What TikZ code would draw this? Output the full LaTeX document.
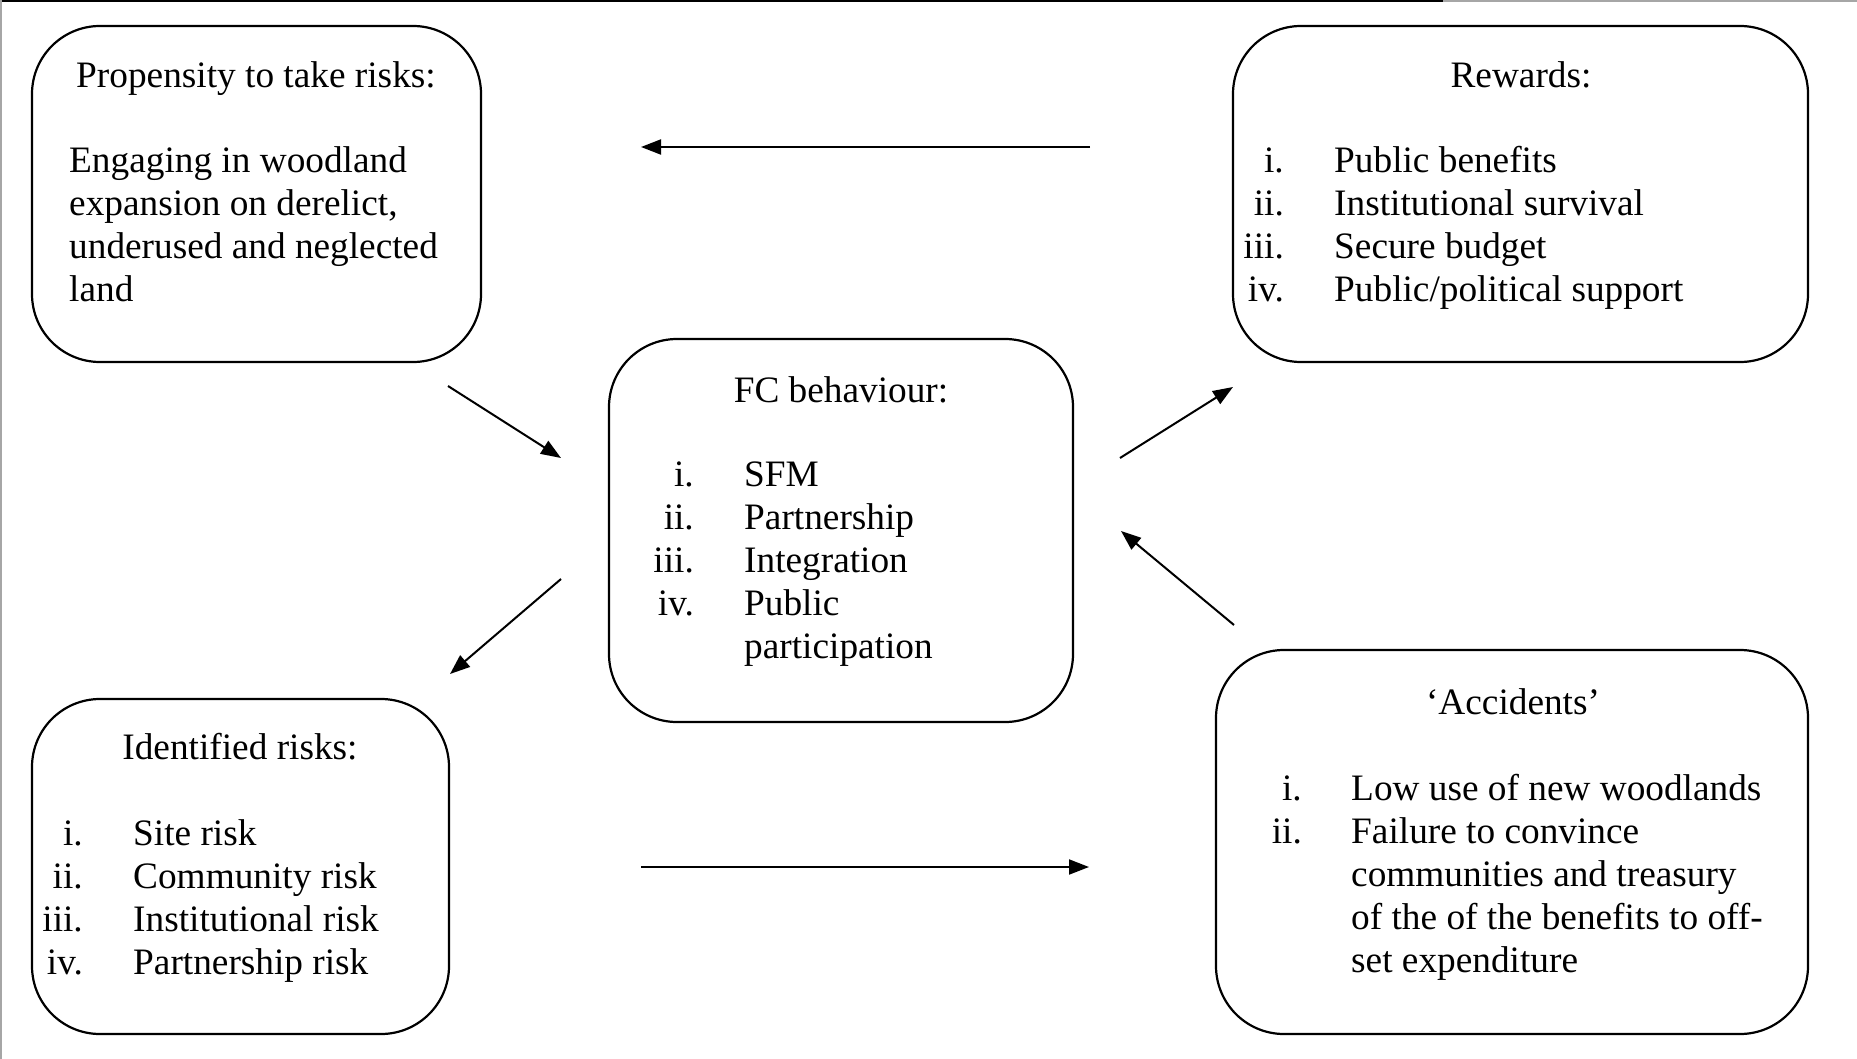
\documentclass[tikz,border=0pt]{standalone}
\usepackage{fontspec}
\setmainfont{Liberation Serif}
\usetikzlibrary{arrows.meta}
\begin{document}
\begin{tikzpicture}[x=1pt,y=-1pt,
  box/.style={draw, line width=2.2pt, rounded corners=68pt, inner sep=0pt},
  txt/.style={inner sep=0pt, anchor=base, yshift=-1.5pt, font=\fontsize{37.3}{43}\selectfont},
  num/.style={txt, anchor=base east},
  item/.style={txt, anchor=base west},
  link/.style={line width=2pt, -{Triangle[length=20pt,width=15pt]}}]
\useasboundingbox (0,0) rectangle (1857,1059);
% page frame
\draw[line width=2pt] (0,1) -- (1443,1);
\draw[line width=2pt, gray!70] (1443,1) -- (1857,1);
\draw[line width=2pt, gray!70] (1,0) -- (1,1059);

% boxes
\node[box, minimum width=449pt, minimum height=336pt] (prop) at (256.5,194) {};
\node[box, minimum width=575pt, minimum height=336pt] (rew) at (1520.5,194) {};
\node[box, minimum width=464pt, minimum height=383pt] (fc) at (841,530.5) {};
\node[box, minimum width=417pt, minimum height=335pt] (ident) at (240.5,866.5) {};
\node[box, minimum width=592pt, minimum height=384pt] (acc) at (1512,842) {};

% propensity to take risks
\node[txt] (propT) at (256,86) {Propensity to take risks:};
\node[item] (prop1) at (69,171) {Engaging in woodland};
\node[item] (prop2) at (69,214) {expansion on derelict,};
\node[item] (prop3) at (69,257) {underused and neglected};
\node[item] (prop4) at (69,300) {land};

% rewards
\node[txt] (rewT) at (1521,86) {Rewards:};
\foreach \n/\t/\y [count=\k] in {i./Public benefits/171, ii./Institutional survival/214,
    iii./Secure budget/257, iv./Public\slash political support/300}{
  \node[num] (rewN\k) at (1284,\y) {\n};
  \node[item] (rewI\k) at (1334,\y) {\t};
}

% FC behaviour
\node[txt] (fcT) at (841,401) {FC behaviour:};
\foreach \n/\t/\y [count=\k] in {i./SFM/485, ii./Partnership/528, iii./Integration/571, iv./Public/614}{
  \node[num] (fcN\k) at (694,\y) {\n};
  \node[item] (fcI\k) at (744,\y) {\t};
}
\node[item] (fcI5) at (744,657) {participation};

% identified risks
\node[txt] (idT) at (240,758) {Identified risks:};
\foreach \n/\t/\y [count=\k] in {i./Site risk/844, ii./Community risk/887,
    iii./Institutional risk/930, iv./Partnership risk/973}{
  \node[num] (idN\k) at (83,\y) {\n};
  \node[item] (idI\k) at (133,\y) {\t};
}

% accidents
\node[txt] (accT) at (1513,713) {‘Accidents’};
\node[num] (accN1) at (1302,799) {i.};
\node[item] (accI1) at (1351,799) {Low use of new woodlands};
\node[num] (accN2) at (1302,842) {ii.};
\node[item] (accI2) at (1351,842) {Failure to convince};
\node[item] (accI3) at (1351,885) {communities and treasury};
\node[item] (accI4) at (1351,928) {of the of the benefits to off-};
\node[item] (accI5) at (1351,971) {set expenditure};

% arrow ends
\coordinate (a1s) at (1090,147); \coordinate (a1e) at (641,147);
\coordinate (a2s) at (641,867);  \coordinate (a2e) at (1089,867);
\coordinate (a3s) at (448,386);  \coordinate (a3e) at (561,458);
\coordinate (a4s) at (561,579);  \coordinate (a4e) at (450,674);
\coordinate (a5s) at (1120,458); \coordinate (a5e) at (1233,387);
\coordinate (a6s) at (1234,625); \coordinate (a6e) at (1121,531);

\draw[link] (a1s) -- (a1e);
\draw[link] (a2s) -- (a2e);
\draw[link] (a3s) -- (a3e);
\draw[link] (a4s) -- (a4e);
\draw[link] (a5s) -- (a5e);
\draw[link] (a6s) -- (a6e);
\end{tikzpicture}
\end{document}
